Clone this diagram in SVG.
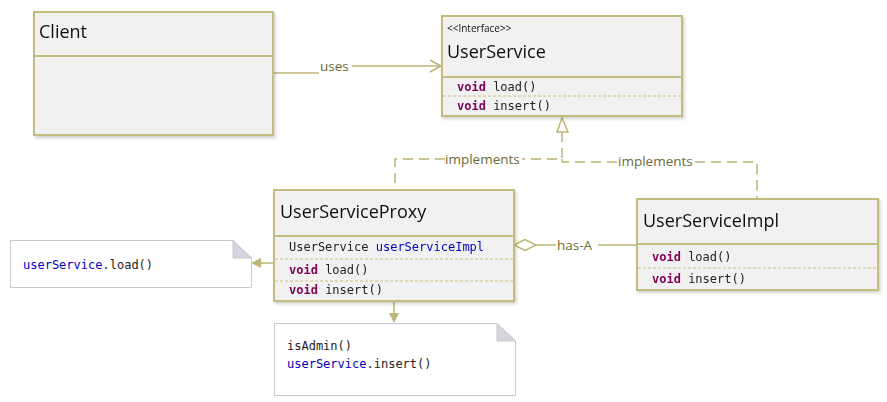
<svg xmlns="http://www.w3.org/2000/svg" width="887" height="402" viewBox="0 0 887 402">
<defs>
<style>
.box{fill:#f1f1f1;stroke:#c4bc7e;stroke-width:2}
.sep{stroke:#cdbf78;stroke-width:1;stroke-dasharray:3,2}
.title{font-family:"Open Sans","Noto Sans",sans-serif;font-size:18px;fill:#111}
.stereo{font-family:"Open Sans","Noto Sans",sans-serif;font-size:10px;fill:#111}
.mono{font-family:"DejaVu Sans Mono","Liberation Mono",monospace;font-size:12px;fill:#222}
.kw{font-weight:bold;fill:#7f0055}
.var{fill:#0000c0}
.conn{fill:none;stroke:#bdb575;stroke-width:1.5}
.dash{fill:none;stroke:#bdb575;stroke-width:1.5;stroke-dasharray:10,6}
.lbl{font-family:"Open Sans","Noto Sans",sans-serif;font-size:13.5px;fill:#6e6a35}
.note{fill:#fff;stroke:#c8c9d2;stroke-width:1}
.fold{fill:#d3d4dc;stroke:#c8c9d2;stroke-width:1}
</style>
<filter id="sh" x="-5%" y="-5%" width="115%" height="120%">
<feDropShadow dx="1.5" dy="2" stdDeviation="1.5" flood-color="#000" flood-opacity="0.18"/>
</filter>
</defs>
<rect width="887" height="402" fill="#fff"/>

<g id="connectors">
<path class="conn" d="M274,73 H319 M352,66 H441"/>
<path class="conn" d="M430,60 L441,66 L430,72"/>
<text class="lbl" x="320" y="71">uses</text>

<path class="dash" d="M562,132 V159 H522 M445,159 H395 V190"/>
<path class="dash" d="M562,159 V162 H618 M695,162 H757 V199"/>
<path d="M562,118 L557,132 L568,132 Z" fill="#fff" stroke="#bdb575" stroke-width="1.5"/>
<text class="lbl" x="445" y="164">implements</text>
<text class="lbl" x="618" y="166">implements</text>

<path class="conn" d="M536,245 H556 M598,245 H637"/>
<path d="M514,245 L525,239.5 L536,245 L525,250.5 Z" fill="#fff" stroke="#bdb575" stroke-width="1.5"/>
<text class="lbl" x="557" y="250">has-A</text>

<path class="conn" d="M274,263 H258"/>
<path d="M251,263 L261,258 L261,268 Z" fill="#bdb575"/>
<path class="conn" d="M394,302 V316"/>
<path d="M394,323 L389,313 L399,313 Z" fill="#bdb575"/>
</g>

<g id="client" filter="url(#sh)">
<rect class="box" x="34" y="12" width="239" height="44"/>
<rect class="box" x="34" y="56" width="239" height="79"/>
<text class="title" x="39" y="38">Client</text>
</g>

<g id="userService" filter="url(#sh)">
<rect class="box" x="442" y="16" width="240" height="61"/>
<rect class="box" x="442" y="77" width="240" height="39"/>
<text class="stereo" x="447" y="32">&lt;&lt;Interface&gt;&gt;</text>
<text class="title" x="447" y="58">UserService</text>
<line class="sep" x1="443" y1="96" x2="681" y2="96"/>
<text class="mono" x="457" y="91"><tspan class="kw">void</tspan> load()</text>
<text class="mono" x="457" y="110"><tspan class="kw">void</tspan> insert()</text>
</g>

<g id="userServiceProxy" filter="url(#sh)">
<rect class="box" x="274" y="190" width="240" height="46"/>
<rect class="box" x="274" y="236" width="240" height="65"/>
<text class="title" x="280" y="218">UserServiceProxy</text>
<text class="mono" x="289" y="251">UserService <tspan class="var">userServiceImpl</tspan></text>
<line class="sep" x1="275" y1="259" x2="513" y2="259"/>
<text class="mono" x="289" y="274"><tspan class="kw">void</tspan> load()</text>
<line class="sep" x1="275" y1="281" x2="513" y2="281"/>
<text class="mono" x="289" y="294"><tspan class="kw">void</tspan> insert()</text>
</g>

<g id="userServiceImpl" filter="url(#sh)">
<rect class="box" x="637" y="199" width="241" height="45"/>
<rect class="box" x="637" y="244" width="241" height="46"/>
<text class="title" x="643" y="227">UserServiceImpl</text>
<text class="mono" x="652" y="261"><tspan class="kw">void</tspan> load()</text>
<line class="sep" x1="638" y1="268" x2="877" y2="268"/>
<text class="mono" x="652" y="283"><tspan class="kw">void</tspan> insert()</text>
</g>

<g id="note1">
<path class="note" d="M10.5,240.5 H233 L251.5,258 V287.5 H10.5 Z"/>
<path class="fold" d="M233,240.5 L251.5,258 H233 Z"/>
<text class="mono" x="23" y="269"><tspan class="var">userService</tspan>.load()</text>
</g>

<g id="note2">
<path class="note" d="M274.5,323.5 H497 L515.5,341 V395.5 H274.5 Z"/>
<path class="fold" d="M497,323.5 L515.5,341 H497 Z"/>
<text class="mono" x="287" y="350">isAdmin()</text>
<text class="mono" x="287" y="368"><tspan class="var">userService</tspan>.insert()</text>
</g>
</svg>
